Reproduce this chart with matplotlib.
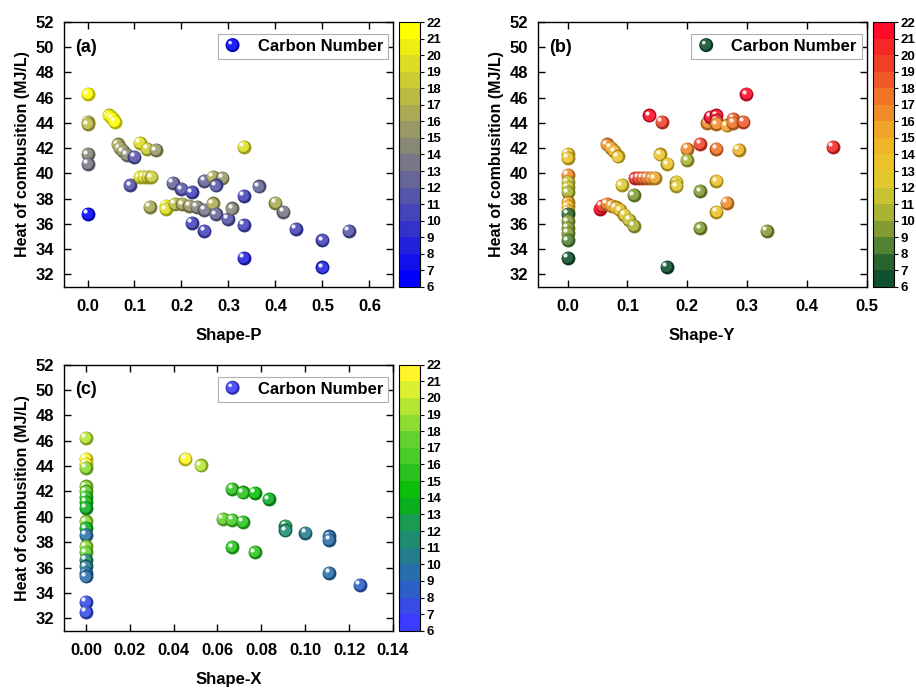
import matplotlib
matplotlib.use('Agg')
import matplotlib.pyplot as plt
import numpy as np
from matplotlib.colors import LinearSegmentedColormap, ListedColormap, BoundaryNorm, to_rgb
from matplotlib.transforms import offset_copy
from matplotlib.legend_handler import HandlerBase
from matplotlib.patches import Circle
from matplotlib.lines import Line2D
from matplotlib.cm import ScalarMappable

plt.rcParams['font.family'] = ['Liberation Sans', 'DejaVu Sans']
plt.rcParams['font.weight'] = 'bold'
plt.rcParams['axes.labelweight'] = 'bold'

# (a) heat of combustion vs Shape-P, coloured by carbon number
p_x = [0.0, 0.0, 0.0, 0.0, 0.0, 0.0,
       0.046, 0.050, 0.054, 0.058,
       0.065, 0.069, 0.075, 0.083, 0.100, 0.091,
       0.111, 0.127, 0.145, 0.111, 0.120, 0.128, 0.136,
       0.133, 0.166, 0.166, 0.182, 0.200, 0.222,
       0.186, 0.202, 0.217, 0.233, 0.249, 0.267, 0.273, 0.299, 0.308,
       0.222, 0.249, 0.249, 0.267, 0.287, 0.273,
       0.333, 0.333, 0.333, 0.333, 0.364, 0.400, 0.417, 0.444,
       0.500, 0.500, 0.556]
p_y = [46.27, 44.07, 43.90, 41.51, 40.77, 36.80,
       44.60, 44.45, 44.30, 44.10,
       42.30, 42.00, 41.75, 41.45, 41.30, 39.06,
       42.40, 41.96, 41.83, 39.70, 39.75, 39.75, 39.70,
       37.33, 37.45, 37.15, 39.24, 38.75, 38.50,
       37.60, 37.55, 37.45, 37.33, 37.13, 37.62, 36.76, 36.38, 37.22,
       36.07, 35.43, 39.40, 39.75, 39.65, 39.05,
       42.10, 38.20, 35.90, 33.30, 38.97, 37.65, 36.94, 35.62,
       34.70, 32.55, 35.45]
p_c = [21, 17, 17, 14, 13, 6,
       21, 21, 21, 21,
       16, 16, 15, 14, 11, 11,
       19, 18, 15, 19, 19, 18, 18,
       16, 20, 19, 12, 11, 10,
       17, 16, 15, 14, 13, 16, 12, 11, 14,
       10, 10, 12, 16, 15, 11,
       19, 10, 10, 8, 12, 16, 13, 10,
       10, 8, 11]

# (b) heat of combustion vs Shape-Y
y_x = [0.0] * 15 + [
       0.0545, 0.057, 0.066, 0.074, 0.081, 0.088, 0.095, 0.103, 0.111,
       0.0656, 0.072, 0.078, 0.084, 0.091,
       0.112, 0.119, 0.126, 0.133, 0.140, 0.146, 0.111,
       0.155, 0.167, 0.182, 0.182, 0.200, 0.200,
       0.222, 0.222, 0.222, 0.166,
       0.137, 0.158, 0.234, 0.239, 0.249, 0.249, 0.249, 0.266,
       0.277, 0.277, 0.294, 0.299,
       0.249, 0.286, 0.249, 0.266, 0.249, 0.333, 0.444]
y_y = [41.55, 41.25, 39.90, 39.30, 38.90, 38.50, 37.70, 37.40, 37.05,
       36.80, 36.20, 35.70, 35.30, 34.70, 33.30,
       37.20, 37.45, 37.60, 37.45, 37.30, 37.07, 36.70, 36.30, 35.85,
       42.30, 42.05, 41.75, 41.35, 39.06,
       39.62, 39.65, 39.65, 39.65, 39.62, 39.62, 38.26,
       41.50, 40.72, 39.30, 38.98, 41.96, 41.04,
       42.36, 38.58, 35.65, 32.58,
       44.60, 44.07, 44.00, 44.47, 44.60, 44.20, 43.90, 43.80,
       44.34, 44.00, 44.07, 46.27,
       41.96, 41.85, 39.37, 37.65, 36.94, 35.43, 42.09]
y_c = [13, 13, 16, 11, 11, 10, 15, 14, 13,
       7, 9, 9, 9, 8, 6,
       21, 20, 17, 15, 14, 13, 12, 11, 10,
       16, 15, 14, 13, 12,
       20, 19, 18, 17, 16, 15, 9,
       13, 13, 12, 12, 16, 10,
       19, 9, 9, 6,
       21, 19, 16, 21, 21, 20, 16, 15,
       18, 17, 18, 21,
       17, 14, 13, 16, 13, 9, 20]

# (c) heat of combustion vs Shape-X
x_x = [0.0] * 20 + [
       0.0454, 0.0525, 0.0667, 0.0717, 0.0770, 0.0835,
       0.0623, 0.0667, 0.0717, 0.0667, 0.0770,
       0.0910, 0.0910, 0.1001, 0.1110, 0.1110, 0.1110, 0.1250]
x_y = [46.21, 44.55, 44.20, 43.84, 42.40, 42.00, 41.60, 41.20, 40.70,
       39.63, 39.10, 38.60, 37.66, 37.20, 36.60, 36.08, 35.55, 35.30,
       33.30, 32.50,
       44.58, 44.05, 42.21, 41.92, 41.87, 41.39,
       39.82, 39.76, 39.60, 37.60, 37.21,
       39.29, 38.92, 38.76, 38.45, 38.18, 35.60, 34.63]
x_c = [19, 21, 21, 18, 18, 17, 15, 14, 13,
       18, 13, 9, 18, 17, 11, 10, 9, 9,
       7, 7,
       21, 19, 15, 15, 14, 13,
       17, 16, 15, 15, 15,
       12, 11, 10, 9, 9, 9, 8]

levels = np.arange(6, 23)
norm = BoundaryNorm(levels, 16)

cmap_a = ListedColormap(LinearSegmentedColormap.from_list('by', ['#0000ff', '#ffff00'])(np.linspace(0, 1, 16)))
cmap_b = ListedColormap(np.array([
    (15, 80, 45), (40, 100, 45), (80, 130, 50), (130, 155, 50),
    (170, 180, 50), (200, 195, 50), (225, 200, 45), (235, 195, 40),
    (240, 180, 40), (240, 165, 40), (240, 140, 40), (240, 115, 40),
    (240, 90, 40), (240, 65, 40), (245, 40, 40), (255, 10, 40)]) / 255.)
cmap_c = ListedColormap(np.array([
    (60, 60, 255), (55, 75, 230), (45, 95, 200), (40, 110, 170),
    (35, 125, 140), (30, 140, 110), (25, 155, 80), (10, 175, 30),
    (10, 190, 10), (40, 195, 30), (70, 205, 40), (100, 210, 45),
    (140, 220, 50), (180, 230, 50), (220, 240, 50), (255, 245, 40)]) / 255.)


def shades(rgb):
    rgb = np.array(rgb[:3])
    return rgb * 0.7, rgb + (1 - rgb) * 0.12


def balls(ax, xs, ys, cs, cmap, s=100):
    fig = ax.figure
    t_mid = offset_copy(ax.transData, fig=fig, x=-0.6, y=0.6, units='points')
    t_hi = offset_copy(ax.transData, fig=fig, x=-1.9, y=1.9, units='points')
    for k, (x, y, c) in enumerate(zip(xs, ys, cs)):
        dark, light = shades(cmap(norm(c)))
        z = 3 + k * 0.01
        ax.scatter([x], [y], s=s, color=[dark], lw=0, zorder=z)
        ax.scatter([x], [y], s=s * 0.62, color=[light], lw=0, zorder=z + 0.002,
                   transform=t_mid)
        ax.scatter([x], [y], s=s * 0.09, color='white', alpha=0.9, lw=0,
                   zorder=z + 0.004, transform=t_hi)


class BallHandler(HandlerBase):
    def create_artists(self, legend, orig_handle, xdescent, ydescent,
                       width, height, fontsize, trans):
        dark, light = shades(to_rgb(orig_handle.get_color()))
        cx, cy = width / 2 - xdescent, height / 2 - ydescent
        r = 0.42 * fontsize
        arts = [Circle((cx, cy), r, fc=dark, lw=0),
                Circle((cx - 0.1 * r, cy + 0.1 * r), 0.78 * r, fc=light, lw=0),
                Circle((cx - 0.35 * r, cy + 0.35 * r), 0.25 * r, fc='white', lw=0, alpha=0.9)]
        for a in arts:
            a.set_transform(trans)
        return arts


fig = plt.figure(figsize=(9.16, 6.88), dpi=100)

panels = [
    ([0.0699, 0.583, 0.359, 0.385], [0.4356, 0.583, 0.0225, 0.385],
     p_x, p_y, p_c, cmap_a, 'Shape-P', (-0.05, 0.65), np.arange(0, 0.61, 0.1), '%.1f', '(a)'),
    ([0.587, 0.583, 0.359, 0.385], [0.953, 0.583, 0.0225, 0.385],
     y_x, y_y, y_c, cmap_b, 'Shape-Y', (-0.05, 0.5), np.arange(0, 0.51, 0.1), '%.1f', '(b)'),
    ([0.0699, 0.083, 0.359, 0.387], [0.4356, 0.083, 0.0225, 0.387],
     x_x, x_y, x_c, cmap_c, 'Shape-X', (-0.01, 0.14), np.arange(0, 0.141, 0.02), '%.2f', '(c)'),
]

for rect, crect, xs, ys, cs, cmap, xlab, xlim, xt, fmt, tag in panels:
    ax = fig.add_axes(rect)
    balls(ax, xs, ys, cs, cmap)
    ax.set_xlim(xlim)
    ax.set_ylim(31, 52)
    ax.set_xticks(xt)
    ax.set_xticklabels([fmt % v for v in xt])
    ax.set_yticks(np.arange(32, 53, 2))
    ax.tick_params(direction='in', top=True, right=True, length=5, width=1,
                   labelsize=12, pad=7)
    ax.tick_params(axis='x', pad=9)
    for sp in ax.spines.values():
        sp.set_linewidth(1.0)
    ax.set_xlabel(xlab, fontsize=12, labelpad=10)
    ax.set_ylabel('Heat of combusition (MJ/L)', fontsize=11.5, labelpad=4)
    ax.text(0.035, 0.905, tag, transform=ax.transAxes, fontsize=13,
            va='center', ha='left')
    h = Line2D([], [], color=cmap(0), label='Carbon Number')
    leg = ax.legend(handles=[h], handler_map={Line2D: BallHandler()},
                    loc='upper right', bbox_to_anchor=(0.985, 0.955),
                    borderaxespad=0, fancybox=False, fontsize=12,
                    handlelength=1.2, handletextpad=0.9, borderpad=0.3,
                    framealpha=1)
    leg.get_frame().set_edgecolor('#b0b0b0')
    leg.get_frame().set_linewidth(0.8)

    cax = fig.add_axes(crect)
    cb = fig.colorbar(ScalarMappable(norm=norm, cmap=cmap), cax=cax, ticks=levels)
    cb.outline.set_linewidth(0.8)
    cax.tick_params(labelsize=9.5, length=3, width=0.8, pad=2)

fig.savefig('out.png', dpi=100)
